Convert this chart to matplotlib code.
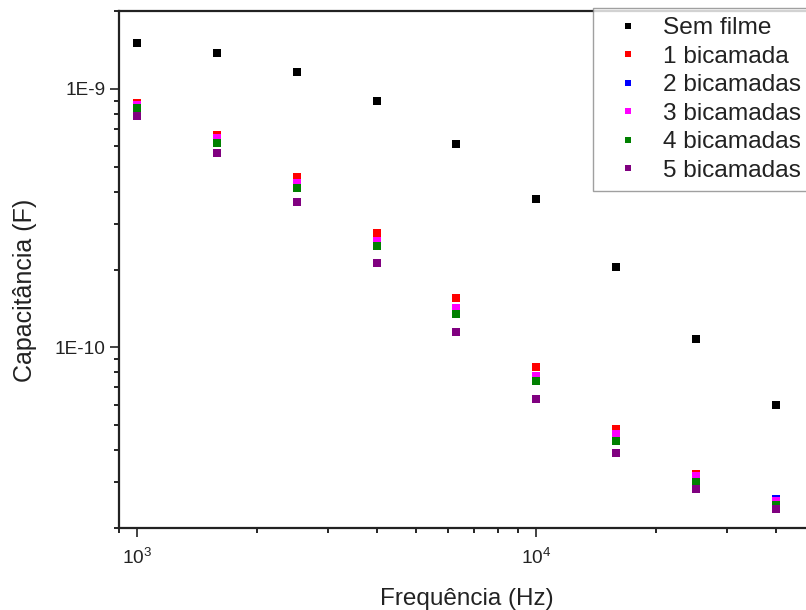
import matplotlib
matplotlib.use("Agg")
import matplotlib.pyplot as plt
from matplotlib.ticker import FixedLocator, FixedFormatter, LogLocator, NullFormatter

plt.rcParams['font.family'] = ['Liberation Sans', 'DejaVu Sans']
plt.rcParams['mathtext.fontset'] = 'custom'
plt.rcParams['mathtext.rm'] = 'Liberation Sans'

freq = [1000, 1585, 2512, 3981, 6310, 10000, 15849, 25119, 39811]
sem_filme = [1.51e-9, 1.37e-9, 1.16e-9, 8.98e-10, 6.11e-10, 3.74e-10, 2.05e-10, 1.08e-10, 6.0e-11]
bic1 = [8.83e-10, 6.63e-10, 4.54e-10, 2.77e-10, 1.55e-10, 8.38e-11, 4.85e-11, 3.24e-11, 2.59e-11]
bic2 = [8.14e-10, 6.28e-10, 4.22e-10, 2.51e-10, 1.38e-10, 7.60e-11, 4.50e-11, 3.08e-11, 2.59e-11]
bic3 = [8.63e-10, 6.48e-10, 4.33e-10, 2.58e-10, 1.42e-10, 7.75e-11, 4.62e-11, 3.17e-11, 2.55e-11]
bic4 = [8.40e-10, 6.19e-10, 4.14e-10, 2.46e-10, 1.35e-10, 7.41e-11, 4.36e-11, 3.01e-11, 2.46e-11]
bic5 = [7.85e-10, 5.66e-10, 3.65e-10, 2.12e-10, 1.145e-10, 6.31e-11, 3.89e-11, 2.82e-11, 2.37e-11]

labels = ['Sem filme', '1 bicamada', '2 bicamadas', '3 bicamadas', '4 bicamadas', '5 bicamadas']
series = [sem_filme, bic1, bic2, bic3, bic4, bic5]
colors = ['#000000', '#FF0000', '#0000FF', '#FF00FF', '#008000', '#800080']

xticks = [1e3, 1e4]
xticklabels = [r'$\mathregular{10^{3}}$', r'$\mathregular{10^{4}}$']
yticks = [1e-10, 1e-9]
yticklabels = ['1E-10', '1E-9']

W, H = 806, 610
fig = plt.figure(figsize=(W / 100, H / 100), dpi=100)
left, right, top, bottom = 119, 815, 11, 528
ax = fig.add_axes([left / W, 1 - bottom / H, (right - left) / W, (bottom - top) / H])

for vals, lab, c in zip(series, labels, colors):
    ax.plot(freq, vals, linestyle='none', marker='s', markersize=5.2, color=c,
            markeredgewidth=0, label=lab)

ax.set_xscale('log')
ax.set_yscale('log')
ax.set_xlim(900, 50000)
ax.set_ylim(2e-11, 2e-9)

ax.xaxis.set_major_locator(FixedLocator(xticks))
ax.xaxis.set_major_formatter(FixedFormatter(xticklabels))
ax.xaxis.set_minor_locator(LogLocator(base=10, subs=range(2, 10), numticks=20))
ax.xaxis.set_minor_formatter(NullFormatter())
ax.yaxis.set_major_locator(FixedLocator(yticks))
ax.yaxis.set_major_formatter(FixedFormatter(yticklabels))
ax.yaxis.set_minor_locator(LogLocator(base=10, subs=range(2, 10), numticks=20))
ax.yaxis.set_minor_formatter(NullFormatter())

ax.tick_params(which='major', direction='out', length=6.5, width=1.2, labelsize=13.7, colors='#222222')
ax.tick_params(which='minor', direction='out', length=3.8, width=1.2)
ax.tick_params(axis='x', which='major', pad=8)
ax.tick_params(axis='y', which='major', pad=3)
for s in ax.spines.values():
    s.set_linewidth(1.6)
    s.set_color('#222222')

ax.set_xlabel('Frequência (Hz)', fontsize=17.5, labelpad=14, color='#222222')
ax.set_ylabel('Capacitância (F)', fontsize=18, color='#222222', va='center')
ax.yaxis.set_label_coords((25 - left) / (right - left), (bottom - 290) / (bottom - top))

leg = ax.legend(loc='upper left', bbox_to_anchor=(593 / W, 1 - 8 / H),
                bbox_transform=fig.transFigure, fontsize=17.6, frameon=True,
                fancybox=False, edgecolor='#888888', markerscale=0.75,
                handlelength=2.1, handletextpad=0.4, labelspacing=0.26,
                borderpad=0.38, borderaxespad=0)
leg.get_frame().set_linewidth(1.0)
for t in leg.get_texts():
    t.set_color('#222222')

fig.savefig('out.png', dpi=100)
